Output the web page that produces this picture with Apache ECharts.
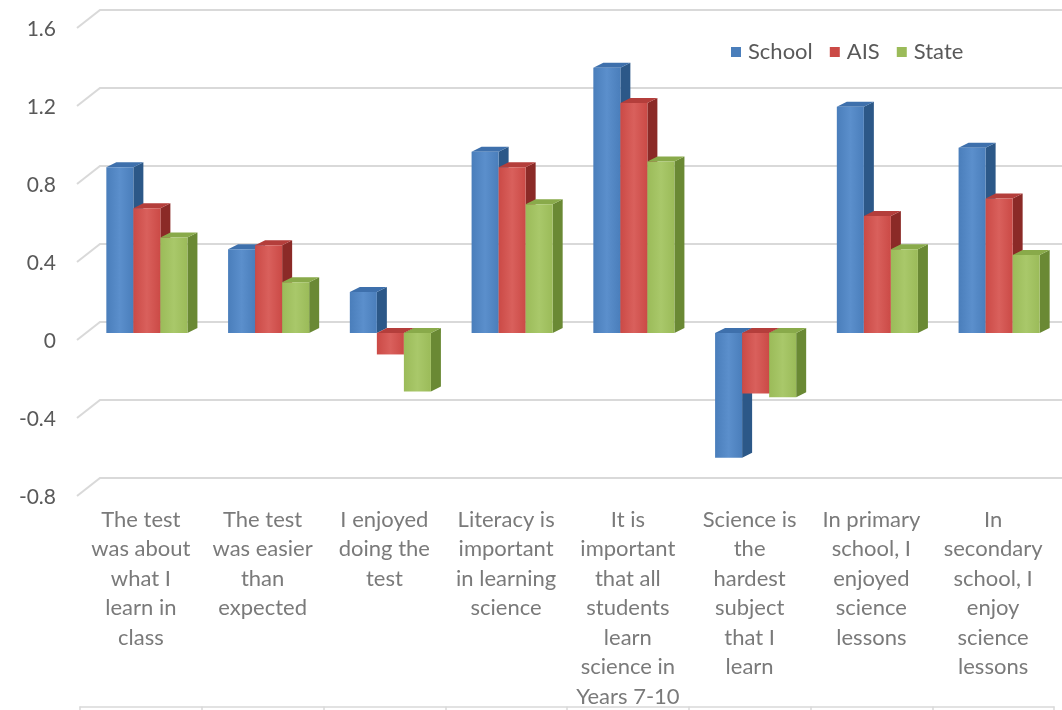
<!DOCTYPE html>
<html>
<head>
<meta charset="utf-8">
<style>
  html, body { margin: 0; padding: 0; background: #ffffff; }
  #chart { width: 1062px; height: 710px; }
</style>
<script src="https://cdn.jsdelivr.net/npm/echarts@6/dist/echarts.min.js"></script>
</head>
<body>
<div id="chart"></div>
<script>
// Survey statements (category axis)
const categories = [
  'The test\nwas about\nwhat I\nlearn in\nclass',
  'The test\nwas easier\nthan\nexpected',
  'I enjoyed\ndoing the\ntest',
  'Literacy is\nimportant\nin learning\nscience',
  'It is\nimportant\nthat all\nstudents\nlearn\nscience in\nYears 7-10',
  'Science is\nthe\nhardest\nsubject\nthat I\nlearn',
  'In primary\nschool, I\nenjoyed\nscience\nlessons',
  'In\nsecondary\nschool, I\nenjoy\nscience\nlessons'
];

// Mean scores per group
const schoolValues = [0.85, 0.43, 0.21, 0.93, 1.36, -0.64, 1.16, 0.95];
const aisValues    = [0.64, 0.45, -0.11, 0.85, 1.18, -0.31, 0.60, 0.69];
const stateValues  = [0.49, 0.26, -0.30, 0.66, 0.88, -0.33, 0.43, 0.40];

// Value axis ticks
const yTicks = [-0.8, -0.4, 0, 0.4, 0.8, 1.2, 1.6];

const seriesNames = ['School', 'AIS', 'State'];
const palette = [
  { front: '#4a7ebb', light: '#5b8fcc', side: '#2c5888', top: '#3e70ac' },
  { front: '#cb4a46', light: '#d9605c', side: '#8b2a27', top: '#b43e3b' },
  { front: '#9bbb59', light: '#a9c86a', side: '#6a8934', top: '#89aa4a' }
];

const FONT = 'Lato, "Open Sans", sans-serif';
const DEPTH_X = 10, DEPTH_Y = -5;

// One 3D-looking column: front face, right side face and top face
function columnRenderer(k) {
  return function (params, api) {
    const idx = api.value(0);
    const base = api.coord([idx, 0]);
    const tip = api.coord([idx, api.value(1)]);
    const band = api.size([1, 0])[0];
    const w = band * 0.222;
    const cx = base[0] + (k - 1) * w;
    const xl = cx - w / 2, xr = cx + w / 2;
    const yTop = Math.min(base[1], tip[1]);
    const yBot = Math.max(base[1], tip[1]);
    const c = palette[k];
    return {
      type: 'group',
      children: [
        {
          type: 'polygon',
          shape: { points: [[xr, yTop], [xr + DEPTH_X, yTop + DEPTH_Y], [xr + DEPTH_X, yBot + DEPTH_Y], [xr, yBot]] },
          style: { fill: c.side }
        },
        {
          type: 'polygon',
          shape: { points: [[xl, yTop], [xl + DEPTH_X, yTop + DEPTH_Y], [xr + DEPTH_X, yTop + DEPTH_Y], [xr, yTop]] },
          style: { fill: c.top }
        },
        {
          type: 'rect',
          shape: { x: xl, y: yTop, width: w, height: yBot - yTop },
          style: {
            fill: new echarts.graphic.LinearGradient(0, 0, 1, 0, [
              { offset: 0, color: c.front },
              { offset: 0.5, color: c.light },
              { offset: 1, color: c.front }
            ])
          }
        }
      ]
    };
  };
}

// Back-wall gridlines with the short diagonal to the front edge
function wallRenderer(params, api) {
  const y = api.coord([0, api.value(1)])[1];
  const x0 = params.coordSys.x;
  return {
    type: 'polyline',
    shape: { points: [[x0 - 9, y + 7], [x0 + 14, y - 11], [1062, y - 11]] },
    style: { stroke: '#d9d9d9', lineWidth: 2, fill: null },
    silent: true
  };
}

const valueSets = [schoolValues, aisValues, stateValues];

const chart = echarts.init(document.getElementById('chart'));
chart.setOption({
  backgroundColor: '#ffffff',
  animation: false,
  textStyle: { fontFamily: FONT },
  legend: {
    data: seriesNames,
    left: 726,
    top: 36,
    icon: 'rect',
    itemWidth: 10,
    itemHeight: 10,
    itemGap: 17,
    textStyle: { fontFamily: FONT, fontSize: 22, color: '#595959', padding: [0, 0, 0, 2] }
  },
  grid: [
    { left: 86, top: 21, width: 974, height: 468 },
    { left: 80, top: 497, width: 974, height: 211 }
  ],
  xAxis: [
    { gridIndex: 0, type: 'category', data: categories, show: false },
    {
      gridIndex: 1, type: 'category', data: categories, position: 'top',
      axisLine: { show: false },
      axisTick: { show: true, inside: true, length: 211, interval: 0, lineStyle: { color: '#d9d9d9', width: 1.5 } },
      axisLabel: {
        inside: true, interval: 0, margin: 8, verticalAlign: 'top',
        fontFamily: FONT, fontSize: 22, lineHeight: 29.5, color: '#7a7a7a', align: 'center'
      }
    },
    {
      gridIndex: 1, type: 'category', data: categories, position: 'bottom',
      axisLine: { show: true, lineStyle: { color: '#d9d9d9', width: 1.5 } },
      axisTick: { show: false }, axisLabel: { show: false }
    }
  ],
  yAxis: [
    {
      gridIndex: 0, type: 'value', min: yTicks[0], max: yTicks[yTicks.length - 1], interval: 0.4,
      axisLine: { show: false }, axisTick: { show: false }, splitLine: { show: false },
      axisLabel: {
        margin: 30, fontFamily: FONT, fontSize: 21, color: '#595959',
        verticalAlign: 'top', lineHeight: 16
      }
    },
    { gridIndex: 1, type: 'value', show: false }
  ],
  series: [
    {
      type: 'custom', name: 'walls', xAxisIndex: 0, yAxisIndex: 0, silent: true, z: 1,
      renderItem: wallRenderer,
      encode: { x: 0, y: 1 },
      data: yTicks.map(v => [0, v])
    }
  ].concat(seriesNames.map((name, k) => ({
    type: 'custom', name: name, xAxisIndex: 0, yAxisIndex: 0, z: 2 + k,
    itemStyle: { color: palette[k].front },
    renderItem: columnRenderer(k),
    encode: { x: 0, y: 1 },
    data: valueSets[k].map((v, i) => [i, v])
  })))
});
</script>
</body>
</html>
